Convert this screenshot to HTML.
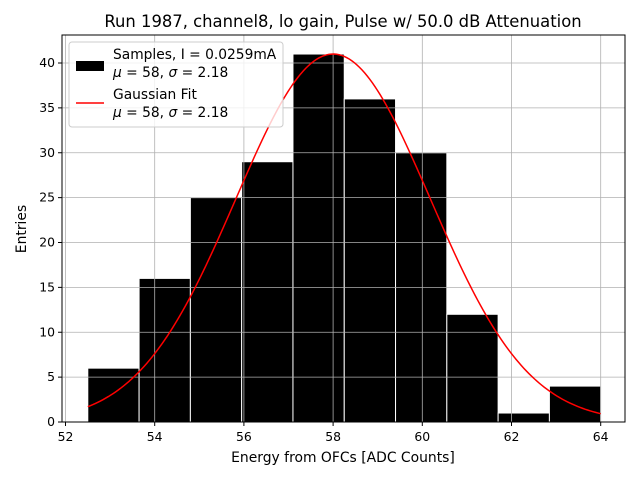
<!DOCTYPE html>
<html><head><meta charset="utf-8"><style>
body{margin:0;background:#fff}
svg{font-family:"DejaVu Sans","Liberation Sans",sans-serif}
</style></head><body>
<svg id="chart" width="640" height="480" xmlns="http://www.w3.org/2000/svg">
<text x="343" y="27" text-anchor="middle" font-size="16.4">Run 1987, channel8, lo gain, Pulse w/ 50.0 dB Attenuation</text>
<g id="bars"></g>
<g id="grid"></g>
<path id="fit" fill="none" stroke="#ff0000" stroke-width="1.5"></path>
<rect x="62" y="35" width="563" height="387" fill="none" stroke="#000" stroke-width="1"></rect>
<g id="ticks" font-size="12.4"></g>
<text x="343" y="462" text-anchor="middle" font-size="13.9">Energy from OFCs [ADC Counts]</text>
<text transform="translate(26,229) rotate(-90)" text-anchor="middle" font-size="13.9">Entries</text>
<g>
<rect x="69" y="42" width="214" height="85" rx="3" fill="#fff" fill-opacity="0.8" stroke="#ccc"></rect>
<rect x="76" y="61" width="28" height="10" fill="#000"></rect>
<text x="113" y="59" font-size="13.8">Samples, I = 0.0259mA</text>
<text x="113" y="77" font-size="13.8"><tspan font-style="italic">μ</tspan> = 58, <tspan font-style="italic">σ</tspan> = 2.18</text>
<line x1="76" y1="103" x2="104" y2="103" stroke="#ff0000" stroke-width="1.5"></line>
<text x="113" y="99" font-size="13.8">Gaussian Fit</text>
<text x="113" y="117" font-size="13.8"><tspan font-style="italic">μ</tspan> = 58, <tspan font-style="italic">σ</tspan> = 2.18</text>
</g>
</svg>
<script>
const binEdges=[52.5,53.65,54.8,55.95,57.1,58.25,59.4,60.55,61.7,62.85,64.0];
const counts=[6,16,25,29,41,36,30,12,1,4];
const xTicks=[52,54,56,58,60,62,64];
const yTicks=[0,5,10,15,20,25,30,35,40];
const fitAmp=[41];
const fitMu=[58];
const fitSigma=[2.18];
const ns="http://www.w3.org/2000/svg";
const X=v=>65.5+(v-52)*44.6;
const Y=v=>422-v*8.975;
function mk(t,a,p){const e=document.createElementNS(ns,t);for(const k in a)e.setAttribute(k,a[k]);p.appendChild(e);return e;}
const bars=document.getElementById('bars');
counts.forEach((c,i)=>{
 const r=mk('rect',{x:X(binEdges[i]),y:Y(c),width:X(binEdges[i+1])-X(binEdges[i]),height:Y(0)-Y(c),fill:'#000',stroke:'#fff','stroke-width':1},bars);
 
 
});
const grid=document.getElementById('grid'),ticks=document.getElementById('ticks');
xTicks.forEach(t=>{
 const l=mk('line',{x1:X(t),x2:X(t),y1:35,y2:422,stroke:'#b0b0b0','stroke-width':0.8},grid);
 
 
 mk('line',{x1:X(t),x2:X(t),y1:422,y2:426,stroke:'#000'},ticks);
 const tx=mk('text',{x:X(t),y:441,'text-anchor':'middle'},ticks);tx.textContent=t;
 
 
});
yTicks.forEach(t=>{
 const l=mk('line',{x1:62,x2:625,y1:Y(t),y2:Y(t),stroke:'#b0b0b0','stroke-width':0.8},grid);
 
 
 mk('line',{x1:58,x2:62,y1:Y(t),y2:Y(t),stroke:'#000'},ticks);
 const tx=mk('text',{x:55,y:Y(t)+4,'text-anchor':'end'},ticks);tx.textContent=t;
 
 
});
let d='';
for(let i=0;i<=200;i++){
 const v=binEdges[0]+(binEdges[binEdges.length-1]-binEdges[0])*i/200;
 const f=fitAmp[0]*Math.exp(-Math.pow(v-fitMu[0],2)/(2*fitSigma[0]*fitSigma[0]));
 d+=(i?'L':'M')+X(v).toFixed(2)+','+Y(f).toFixed(2);
}
document.getElementById('fit').setAttribute('d',d);
</script>
</body></html>
